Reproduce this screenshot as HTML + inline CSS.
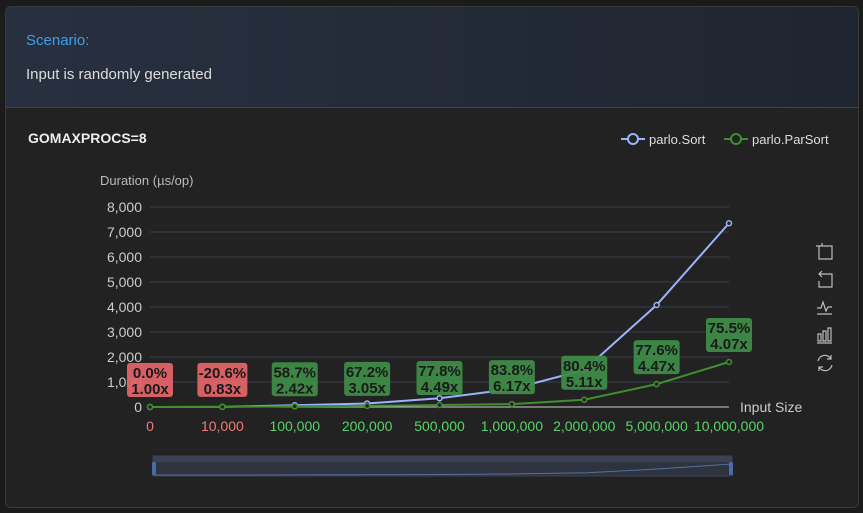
<!DOCTYPE html>
<html><head><meta charset="utf-8"><style>
body{margin:0;background:#1b1b1b;width:863px;height:513px;overflow:hidden;font-family:"Liberation Sans",sans-serif}
.card{position:absolute;left:5px;top:6px;width:852px;height:500px;border:1px solid #3a3a3a;border-radius:6px;background:#222;overflow:hidden}
.head{position:absolute;left:0;top:0;width:852px;height:100px;background:linear-gradient(90deg,#283040,#1f2530);border-bottom:1px solid #3f444c}
</style></head><body>
<div class="card">
<div class="head">
<div style="position:absolute;left:20px;top:25px;color:#3ea0e4;font-size:15px">Scenario:</div>
<div style="position:absolute;left:20px;top:59px;color:#ddd;font-size:15px">Input is randomly generated</div>
</div>
</div>
<svg id="chart" width="863" height="513" style="position:absolute;left:0;top:0"></svg>
<script>
const categories=["0","10,000","100,000","200,000","500,000","1,000,000","2,000,000","5,000,000","10,000,000"];
const sortValues=[1,6,70,140,350,720,1480,4080,7350];
const parSortValues=[1,7,29,46,78,117,290,914,1800];
const pctLabels=["0.0%","-20.6%","58.7%","67.2%","77.8%","83.8%","80.4%","77.6%","75.5%"];
const speedLabels=["1.00x","0.83x","2.42x","3.05x","4.49x","6.17x","5.11x","4.47x","4.07x"];
const yTicks=[0,1000,2000,3000,4000,5000,6000,7000,8000];
const NS="http://www.w3.org/2000/svg";
const svg=document.getElementById('chart');
const x0=150,x1=729,yb=407,yt=207,ymax=8000;
const xs=i=>x0+(x1-x0)*i/(categories.length-1);
const ys=v=>yb-(yb-yt)*v/ymax;
function mk(t,a,p){const e=document.createElementNS(NS,t);for(const k in a)e.setAttribute(k,a[k]);(p||svg).appendChild(e);return e;}
function txt(s,a){const e=mk('text',a);e.textContent=s;return e;}
let e;
e=txt('GOMAXPROCS=8',{x:28,y:143,fill:'#eee','font-size':14,'font-weight':'bold'});

const leg=[['parlo.Sort','#9bb3ff',621],['parlo.ParSort','#3f8f2f',724]];
leg.forEach(l=>{const g=mk('g',{});

mk('line',{x1:l[2],y1:139,x2:l[2]+24,y2:139,stroke:l[1],'stroke-width':2},g);
mk('circle',{cx:l[2]+12,cy:139,r:5,fill:'#222',stroke:l[1],'stroke-width':2},g);
const t=mk('text',{x:l[2]+28,y:144,fill:'#ddd','font-size':13},g);t.textContent=l[0];});
e=txt('Duration (µs/op)',{x:100,y:185,fill:'#bbb','font-size':13});

yTicks.forEach(v=>{
 if(v>0){e=mk('line',{x1:x0,x2:x1,y1:ys(v),y2:ys(v),stroke:'#3a3f4e','stroke-width':1});
 }
 e=txt(v.toLocaleString('en-US'),{x:142,y:ys(v)+5,fill:'#ccc','font-size':14,'text-anchor':'end'});
 
});
e=mk('line',{x1:x0,x2:x1,y1:yb,y2:yb,stroke:'#ccc','stroke-width':1});

e=txt('Input Size',{x:740,y:412,fill:'#ccc','font-size':14});

categories.forEach((c,i)=>{
 const bad=pctLabels[i].startsWith('-')||pctLabels[i]==='0.0%';
 e=txt(c,{x:xs(i),y:431,fill:bad?'#f07a7a':'#5ad26a','font-size':14,'text-anchor':'middle'});
 
});
function series(vals,col,name){
 e=mk('polyline',{points:vals.map((v,i)=>xs(i)+','+ys(v)).join(' '),fill:'none',stroke:col,'stroke-width':2});
 
 vals.forEach((v,i)=>{e=mk('circle',{cx:xs(i),cy:ys(v),r:2.5,fill:'#222',stroke:col,'stroke-width':1.5});
 });
}
series(sortValues,'#9bb3ff','sort');
series(parSortValues,'#3f8f2f','parsort');
categories.forEach((c,i)=>{
 const bad=pctLabels[i].startsWith('-')||pctLabels[i]==='0.0%';
 const by=ys(parSortValues[i])-10,w=pctLabels[i].length>5?50:46;
 const g=mk('g',{});
 
 mk('rect',{x:xs(i)-w/2,y:by-34,width:w,height:34,rx:3,fill:bad?'#e06468':'#3e8b48',opacity:0.95},g);
 let t=mk('text',{x:xs(i),y:by-19,fill:'#1a1a1a','font-size':15,'font-weight':'bold','text-anchor':'middle'},g);t.textContent=pctLabels[i];
 t=mk('text',{x:xs(i),y:by-3,fill:'#1a1a1a','font-size':15,'font-weight':'bold','text-anchor':'middle'},g);t.textContent=speedLabels[i];
});
const dz=mk('g',{});

mk('rect',{x:153,y:456,width:579,height:20,fill:'#2e3340',stroke:'#3a4050'},dz);
mk('rect',{x:153,y:456,width:579,height:6,fill:'#3a4154'},dz);
mk('polyline',{points:sortValues.map((v,i)=>(153+579*i/8)+','+(475-v/7350*11)).join(' '),fill:'none',stroke:'#5a6e9a','stroke-width':1},dz);
mk('rect',{x:152,y:462,width:4,height:13,fill:'#4a6aa8',rx:1},dz);
mk('rect',{x:729,y:462,width:4,height:13,fill:'#4a6aa8',rx:1},dz);
const tb=mk('g',{fill:'none',stroke:'#bbb','stroke-width':1.2});

mk('path',{d:'M819 246h13v13h-13zM822 243v3M816 246h3'},tb);
mk('path',{d:'M819 274h13v13h-13v-6M822 271l-3 3 3 3'},tb);
mk('path',{d:'M817 308h4l2-6 3 9 2-4h4M817 314h15'},tb);
mk('path',{d:'M818 334h3v7h-3zM823 331h3v10h-3zM828 328h3v13h-3zM817 343h15'},tb);
mk('path',{d:'M818 361a7 7 0 0 1 13-2M832 365a7 7 0 0 1-13 2M831 355v4h-4M819 371v-4h4'},tb);
</script>
</body></html>
